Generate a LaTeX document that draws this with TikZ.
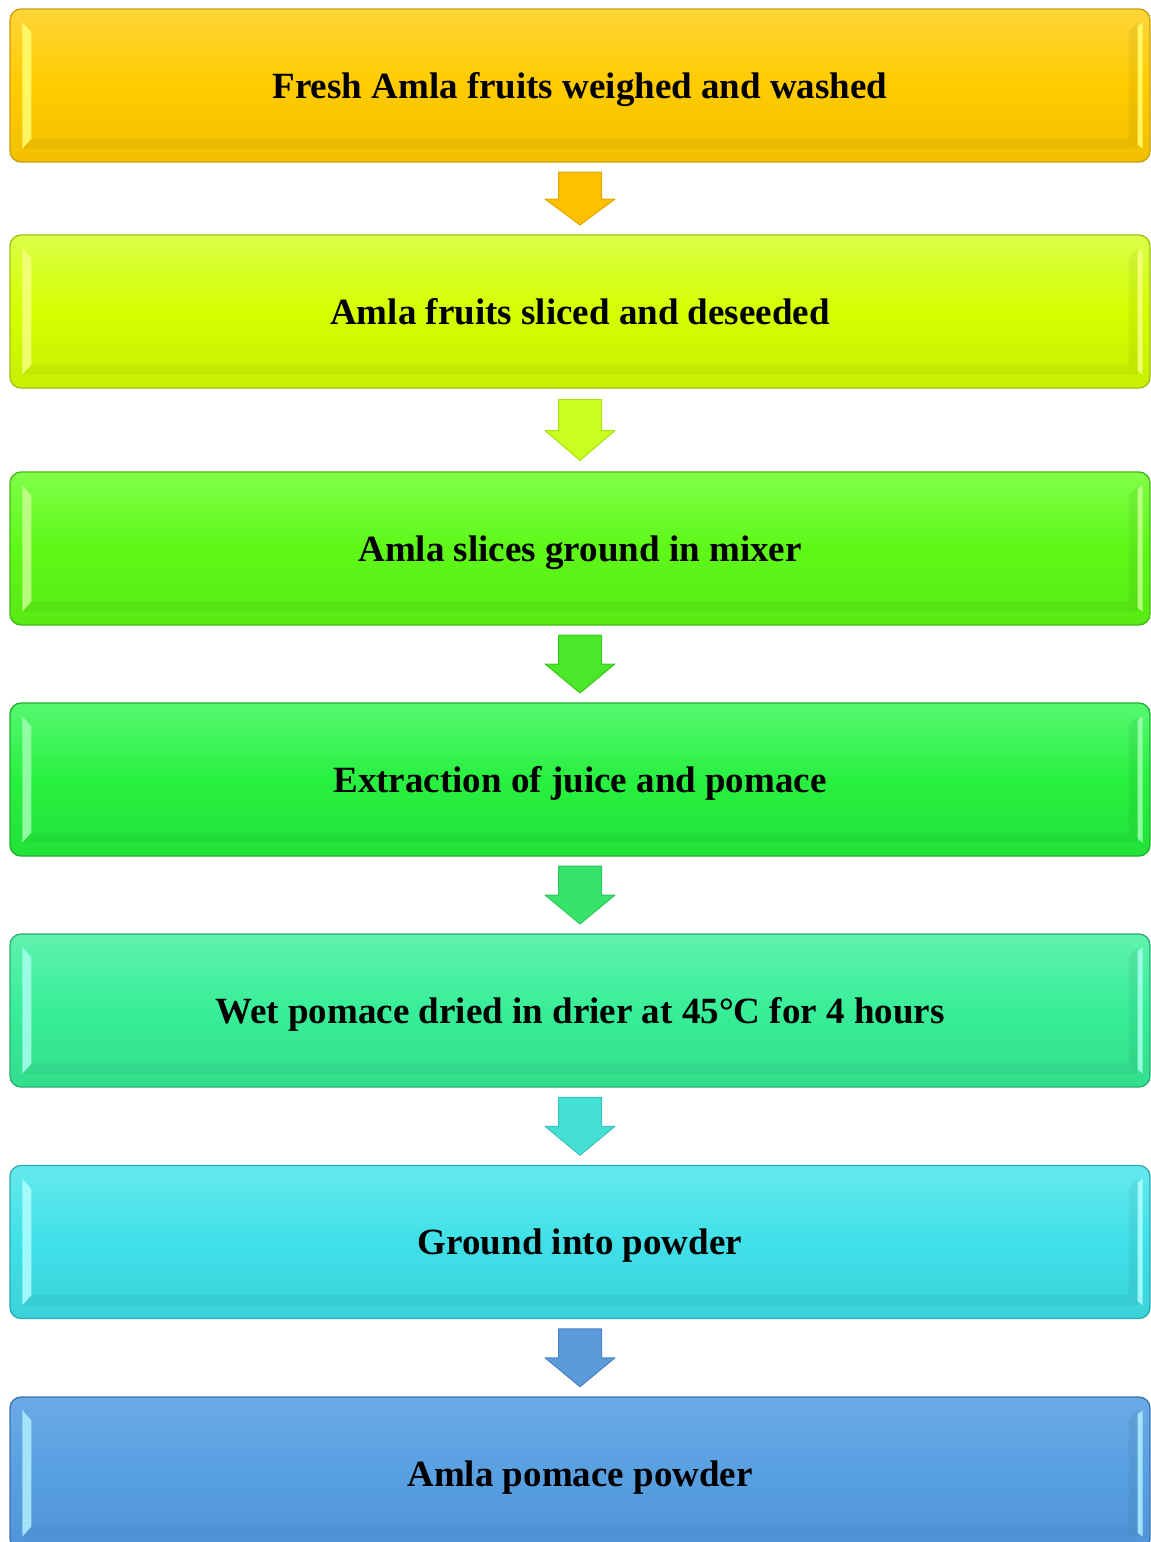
\documentclass[tikz,border=0pt]{standalone}
\usepackage{fontspec}
\setmainfont{Liberation Serif}
\usetikzlibrary{calc}
\definecolor{cA1}{HTML}{FFD53A}\definecolor{cA2}{HTML}{FFCB00}\definecolor{cA3}{HTML}{F2C000}\definecolor{cAd}{HTML}{C9A010}\definecolor{cAh}{HTML}{FFFF70}
\definecolor{cB1}{HTML}{DCFF48}\definecolor{cB2}{HTML}{D4FF00}\definecolor{cB3}{HTML}{C6F000}\definecolor{cBd}{HTML}{A0C010}\definecolor{cBh}{HTML}{F6FF80}
\definecolor{cC1}{HTML}{80FF48}\definecolor{cC2}{HTML}{5EF818}\definecolor{cC3}{HTML}{58EA14}\definecolor{cCd}{HTML}{48B818}\definecolor{cCh}{HTML}{C8FF90}
\definecolor{cD1}{HTML}{55F870}\definecolor{cD2}{HTML}{28F040}\definecolor{cD3}{HTML}{22E238}\definecolor{cDd}{HTML}{20B030}\definecolor{cDh}{HTML}{A0FFB0}
\definecolor{cE1}{HTML}{60F2AE}\definecolor{cE2}{HTML}{38EE98}\definecolor{cE3}{HTML}{32DE8C}\definecolor{cEd}{HTML}{2AAE74}\definecolor{cEh}{HTML}{A8FFF0}
\definecolor{cF1}{HTML}{64EAEE}\definecolor{cF2}{HTML}{40E0E8}\definecolor{cF3}{HTML}{3AD2DA}\definecolor{cFd}{HTML}{30A8B0}\definecolor{cFh}{HTML}{B0FFFF}
\definecolor{cG1}{HTML}{6CAAE6}\definecolor{cG2}{HTML}{58A0E2}\definecolor{cG3}{HTML}{5094D8}\definecolor{cGd}{HTML}{3C74AC}\definecolor{cGh}{HTML}{B0F0FF}
\definecolor{aA}{HTML}{FFC000}\definecolor{aAd}{HTML}{E0A800}
\definecolor{aB}{HTML}{C8FF1E}\definecolor{aBd}{HTML}{A8E010}
\definecolor{aC}{HTML}{4CE62A}\definecolor{aCd}{HTML}{3CC820}
\definecolor{aD}{HTML}{36E46C}\definecolor{aDd}{HTML}{2CC85A}
\definecolor{aE}{HTML}{44E0D6}\definecolor{aEd}{HTML}{36C4BC}
\definecolor{aF}{HTML}{5B9BDB}\definecolor{aFd}{HTML}{4A84C0}
\tikzset{
  stepbox/.style n args={4}{rectangle, rounded corners=11pt, minimum width=1140pt, minimum height=153pt,
    top color=#1, bottom color=#3, middle color=#2, draw=#4, line width=1.3pt, inner sep=0pt,
    text height=25pt, text depth=0pt,
    font=\fontsize{37}{44}\selectfont\bfseries, text=black},
  flowarrow/.style n args={2}{fill=#1, draw=#2, line width=1pt, line join=round},
  bevel/.style={fill=#1, opacity=0.85, draw=none}
}
\newcommand{\boxbevel}[2]{%
  \fill[bevel=#2] ($(#1.north west)+(13,14)$) -- ($(#1.north west)+(22,24)$) -- ($(#1.south west)+(22,-24)$) -- ($(#1.south west)+(13,-14)$) -- cycle;
  \fill[bevel=#2] ($(#1.north east)+(-8,14)$) -- ($(#1.north east)+(-13,18)$) -- ($(#1.south east)+(-13,-18)$) -- ($(#1.south east)+(-8,-14)$) -- cycle;
  \fill[black, opacity=0.05] ($(#1.north east)+(-13,14)$) -- ($(#1.north east)+(-22,24)$) -- ($(#1.south east)+(-22,-24)$) -- ($(#1.south east)+(-13,-14)$) -- cycle;
  \fill[black, opacity=0.04] ($(#1.south west)+(13,-14)$) -- ($(#1.south west)+(22,-24)$) -- ($(#1.south east)+(-22,-24)$) -- ($(#1.south east)+(-13,-14)$) -- cycle;
}
% #1 center coordinate, #2 length, #3 head length, #4 fill, #5 draw
\newcommand{\blockarrow}[5]{%
  \draw[flowarrow={#4}{#5}] ($(#1)+(-21.5,-#2/2)$) -- ($(#1)+(21.5,-#2/2)$) -- ($(#1)+(21.5,#2/2-#3)$) -- ($(#1)+(35,#2/2-#3)$) -- ($(#1)+(0,#2/2)$) -- ($(#1)+(-35,#2/2-#3)$) -- ($(#1)+(-21.5,#2/2-#3)$) -- cycle;
}
\begin{document}
\begin{tikzpicture}[x=1pt,y=-1pt]
\useasboundingbox (0,0) rectangle (1151,1542);
\fill[white] (0,0) rectangle (1151,1542);
\clip (0,0) rectangle (1151,1542);
\node[stepbox={cA1}{cA2}{cA3}{cAd}] (b1) at (580,85.5) {Fresh Amla fruits weighed and washed};
\node[stepbox={cB1}{cB2}{cB3}{cBd}] (b2) at (580,311.5) {Amla fruits sliced and deseeded};
\node[stepbox={cC1}{cC2}{cC3}{cCd}] (b3) at (580,548.5) {Amla slices ground in mixer};
\node[stepbox={cD1}{cD2}{cD3}{cDd}] (b4) at (580,779.5) {Extraction of juice and pomace};
\node[stepbox={cE1}{cE2}{cE3}{cEd}] (b5) at (580,1010.5) {Wet pomace dried in drier at 45°C for 4 hours};
\node[stepbox={cF1}{cF2}{cF3}{cFd}] (b6) at (580,1242) {Ground into powder};
\node[stepbox={cG1}{cG2}{cG3}{cGd}] (b7) at (580,1473.5) {Amla pomace powder};
\boxbevel{b1}{cAh}\boxbevel{b2}{cBh}\boxbevel{b3}{cCh}\boxbevel{b4}{cDh}
\boxbevel{b5}{cEh}\boxbevel{b6}{cFh}\boxbevel{b7}{cGh}
\coordinate (m1) at ($(b1.south)!0.5!(b2.north)$);
\coordinate (m2) at ($(b2.south)!0.5!(b3.north)$);
\coordinate (m3) at ($(b3.south)!0.5!(b4.north)$);
\coordinate (m4) at ($(b4.south)!0.5!(b5.north)$);
\coordinate (m5) at ($(b5.south)!0.5!(b6.north)$);
\coordinate (m6) at ($(b6.south)!0.5!(b7.north)$);
\blockarrow{m1}{53}{26}{aA}{aAd}
\blockarrow{m2}{61}{30}{aB}{aBd}
\blockarrow{m3}{58}{29}{aC}{aCd}
\blockarrow{m4}{58}{29}{aD}{aDd}
\blockarrow{m5}{58}{29}{aE}{aEd}
\blockarrow{m6}{58}{29}{aF}{aFd}
\end{tikzpicture}
\end{document}
